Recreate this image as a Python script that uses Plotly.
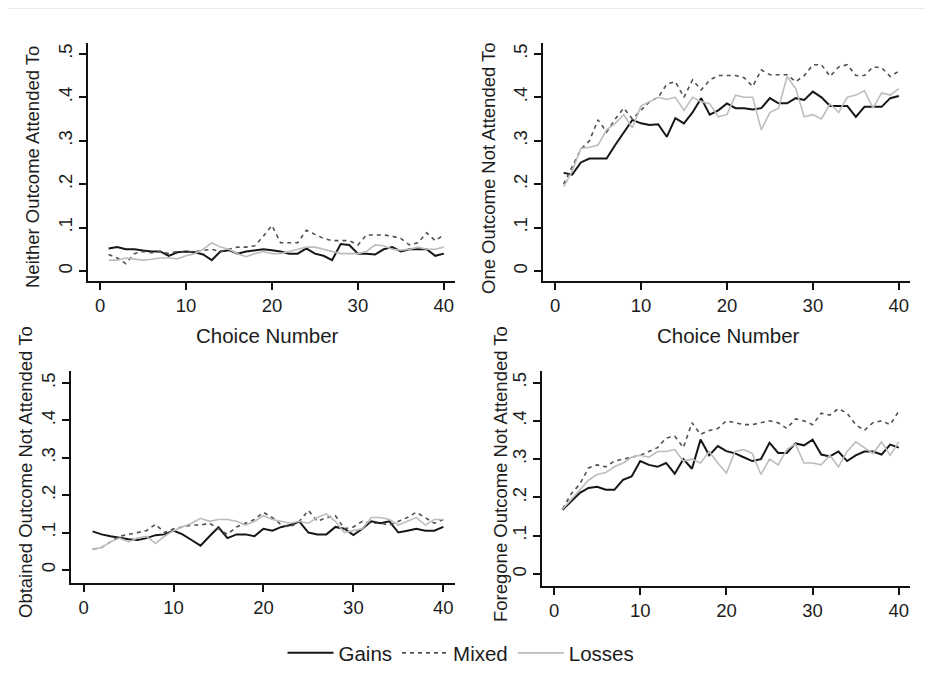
import plotly.graph_objects as go

# page is 933x689 with an 8px body margin around the plot div
PAGE_OFF = 8
W, H = 933 - 2 * PAGE_OFF, 689 - 2 * PAGE_OFF

choice = list(range(1, 41))

# Panel 1: Neither Outcome Attended To
neither_gains = [0.052, 0.055, 0.050, 0.050, 0.047, 0.045, 0.045, 0.035, 0.043, 0.045,
                 0.043, 0.038, 0.025, 0.045, 0.048, 0.040, 0.045, 0.048, 0.050, 0.048,
                 0.045, 0.040, 0.040, 0.052, 0.040, 0.035, 0.025, 0.062, 0.060, 0.040,
                 0.040, 0.038, 0.050, 0.055, 0.045, 0.050, 0.050, 0.050, 0.035, 0.040]
neither_mixed = [0.038, 0.030, 0.017, 0.040, 0.045, 0.042, 0.045, 0.040, 0.045, 0.043,
                 0.045, 0.048, 0.050, 0.045, 0.050, 0.055, 0.055, 0.058, 0.080, 0.105,
                 0.065, 0.065, 0.065, 0.094, 0.085, 0.075, 0.070, 0.070, 0.070, 0.060,
                 0.083, 0.083, 0.083, 0.080, 0.075, 0.060, 0.065, 0.088, 0.070, 0.083]
neither_losses = [0.025, 0.025, 0.030, 0.028, 0.025, 0.027, 0.030, 0.030, 0.028, 0.035,
                  0.040, 0.050, 0.065, 0.055, 0.050, 0.040, 0.033, 0.040, 0.045, 0.040,
                  0.040, 0.045, 0.050, 0.055, 0.055, 0.050, 0.045, 0.040, 0.040, 0.040,
                  0.045, 0.060, 0.058, 0.050, 0.048, 0.050, 0.055, 0.050, 0.050, 0.055]

# Panel 2: One Outcome Not Attended To
one_gains = [0.226, 0.222, 0.250, 0.259, 0.259, 0.259, 0.290, 0.320, 0.348, 0.340,
             0.336, 0.338, 0.309, 0.352, 0.340, 0.365, 0.398, 0.360, 0.370, 0.386,
             0.375, 0.375, 0.372, 0.375, 0.398, 0.386, 0.386, 0.398, 0.394, 0.413,
             0.400, 0.380, 0.380, 0.380, 0.355, 0.378, 0.378, 0.378, 0.398, 0.403]
one_mixed = [0.200, 0.240, 0.280, 0.300, 0.348, 0.320, 0.350, 0.375, 0.350, 0.370,
             0.390, 0.400, 0.430, 0.436, 0.400, 0.440, 0.417, 0.440, 0.450, 0.450,
             0.450, 0.445, 0.425, 0.463, 0.452, 0.452, 0.452, 0.436, 0.450, 0.475,
             0.475, 0.448, 0.470, 0.475, 0.450, 0.450, 0.470, 0.468, 0.448, 0.460]
one_losses = [0.194, 0.230, 0.282, 0.285, 0.290, 0.325, 0.340, 0.360, 0.330, 0.380,
              0.390, 0.400, 0.395, 0.400, 0.370, 0.400, 0.390, 0.385, 0.355, 0.360,
              0.405, 0.400, 0.400, 0.325, 0.365, 0.375, 0.448, 0.420, 0.355, 0.360,
              0.350, 0.385, 0.365, 0.400, 0.405, 0.415, 0.375, 0.410, 0.405, 0.420]

# Panel 3: Obtained Outcome Not Attended To
obt_gains = [0.103, 0.095, 0.090, 0.085, 0.082, 0.080, 0.085, 0.093, 0.095, 0.105,
             0.095, 0.080, 0.065, 0.090, 0.114, 0.085, 0.095, 0.095, 0.090, 0.110,
             0.105, 0.115, 0.120, 0.129, 0.100, 0.095, 0.095, 0.115, 0.110, 0.093,
             0.110, 0.130, 0.125, 0.130, 0.100, 0.105, 0.110, 0.105, 0.105, 0.115]
obt_mixed = [0.055, 0.060, 0.075, 0.090, 0.095, 0.100, 0.105, 0.122, 0.100, 0.110,
             0.115, 0.120, 0.120, 0.125, 0.110, 0.095, 0.115, 0.125, 0.135, 0.154,
             0.140, 0.120, 0.115, 0.130, 0.159, 0.130, 0.140, 0.145, 0.110, 0.115,
             0.130, 0.125, 0.125, 0.120, 0.130, 0.140, 0.154, 0.140, 0.125, 0.135]
obt_losses = [0.055, 0.060, 0.075, 0.085, 0.075, 0.085, 0.090, 0.071, 0.090, 0.105,
              0.115, 0.125, 0.138, 0.130, 0.135, 0.135, 0.130, 0.120, 0.130, 0.145,
              0.135, 0.130, 0.125, 0.130, 0.125, 0.140, 0.150, 0.130, 0.100, 0.105,
              0.110, 0.140, 0.140, 0.135, 0.120, 0.130, 0.140, 0.120, 0.135, 0.135]

# Panel 4: Foregone Outcome Not Attended To
fore_gains = [0.168, 0.190, 0.212, 0.225, 0.228, 0.220, 0.220, 0.246, 0.255, 0.295,
              0.285, 0.280, 0.290, 0.262, 0.300, 0.275, 0.351, 0.310, 0.334, 0.321,
              0.315, 0.305, 0.295, 0.300, 0.343, 0.316, 0.316, 0.341, 0.336, 0.351,
              0.312, 0.307, 0.320, 0.295, 0.310, 0.320, 0.320, 0.312, 0.338, 0.330]
fore_mixed = [0.170, 0.210, 0.235, 0.277, 0.285, 0.280, 0.295, 0.300, 0.305, 0.310,
              0.320, 0.330, 0.355, 0.360, 0.330, 0.395, 0.365, 0.375, 0.380, 0.400,
              0.395, 0.390, 0.390, 0.395, 0.400, 0.395, 0.380, 0.405, 0.400, 0.390,
              0.420, 0.415, 0.432, 0.420, 0.390, 0.375, 0.395, 0.400, 0.390, 0.425]
fore_losses = [0.170, 0.195, 0.220, 0.245, 0.260, 0.265, 0.280, 0.290, 0.305, 0.310,
               0.305, 0.320, 0.320, 0.325, 0.295, 0.300, 0.290, 0.320, 0.290, 0.264,
               0.320, 0.325, 0.315, 0.260, 0.300, 0.285, 0.325, 0.340, 0.290, 0.290,
               0.285, 0.310, 0.280, 0.320, 0.345, 0.330, 0.315, 0.345, 0.310, 0.345]

y_titles = ["Neither Outcome Attended To", "One Outcome Not Attended To",
            "Obtained Outcome Not Attended To", "Foregone Outcome Not Attended To"]
x_title = "Choice Number"
series_names = ["Gains", "Mixed", "Losses"]
ytick_vals = [0, 0.1, 0.2, 0.3, 0.4, 0.5]
ytick_text = ["0", ".1", ".2", ".3", ".4", ".5"]
xtick_vals = [0, 10, 20, 30, 40]

panels = [
    (neither_gains, neither_mixed, neither_losses),
    (one_gains, one_mixed, one_losses),
    (obt_gains, obt_mixed, obt_losses),
    (fore_gains, fore_mixed, fore_losses),
]


def fx(px):
    return (px - PAGE_OFF) / W


def fy(py):
    return 1 - (py - PAGE_OFF) / H


# page-pixel geometry of each panel: (left, right, top, bottom, yrange)
geom = [
    (88, 455, 43, 281, [-0.023, 0.525]),
    (543, 910, 43, 281, [-0.023, 0.525]),
    (71, 455, 371, 583, [-0.035, 0.532]),
    (542, 910, 371, 586, [-0.031, 0.530]),
]
xrange_ = [-1.4, 41.3]

styles = [
    dict(color="#161616", width=2.0, dash="solid"),
    dict(color="#505050", width=1.6, dash="4px,4px"),
    dict(color="#bdbdbd", width=1.6, dash="solid"),
]

font_family = "Arial, 'Liberation Sans', sans-serif"
txt_color = "#1c1c1c"

fig = go.Figure()
layout = dict(
    width=W, height=H,
    margin=dict(l=0, r=0, t=0, b=0),
    paper_bgcolor="white", plot_bgcolor="white",
    font=dict(family=font_family, size=19, color=txt_color),
    showlegend=True,
)

for i, (series, g) in enumerate(zip(panels, geom)):
    n = i + 1
    xa = "x" if n == 1 else f"x{n}"
    ya = "y" if n == 1 else f"y{n}"
    left, right, top, bottom, yr = g
    for j, (vals, name, st) in enumerate(zip(series, series_names, styles)):
        fig.add_trace(go.Scatter(
            x=choice, y=vals, mode="lines", name=name,
            line=st, xaxis=xa, yaxis=ya,
            showlegend=(i == 0), legendrank=j + 1,
            hoverinfo="skip",
        ))
    layout["xaxis" if n == 1 else f"xaxis{n}"] = dict(
        domain=[fx(left), fx(right)], range=xrange_, anchor=ya, automargin=False,
        showgrid=False, zeroline=False, showline=True, linecolor="#111111", linewidth=2,
        ticks="outside", ticklen=7, tickwidth=1.5, tickcolor="#111111",
        tickvals=xtick_vals, tickfont=dict(size=18.5, color=txt_color),
    )
    layout["yaxis" if n == 1 else f"yaxis{n}"] = dict(
        domain=[fy(bottom), fy(top)], range=yr, anchor=xa, automargin=False,
        showgrid=False, zeroline=False, showline=True, linecolor="#111111", linewidth=2,
        ticks="outside", ticklen=7, tickwidth=1.5, tickcolor="#111111",
        tickvals=ytick_vals, ticktext=ytick_text, tickangle=-90,
        tickfont=dict(size=18.5, color=txt_color),
    )

annotations = []
# y titles (rotated)
ytitle_pos = [(32, 167), (488, 168), (25, 472), (500, 474)]
for t, (px, py) in zip(y_titles, ytitle_pos):
    annotations.append(dict(text=t, x=fx(px), y=fy(py), xref="paper", yref="paper",
                            showarrow=False, textangle=-90, font=dict(size=18.5, color=txt_color),
                            xanchor="center", yanchor="middle"))
# x titles for top panels
for px in (267, 728):
    annotations.append(dict(text=x_title, x=fx(px), y=fy(335), xref="paper", yref="paper",
                            showarrow=False, font=dict(size=20.5, color=txt_color),
                            xanchor="center", yanchor="middle"))
layout["annotations"] = annotations

layout["shapes"] = [dict(type="line", xref="paper", yref="paper", x0=0, x1=1,
                         y0=1, y1=1, line=dict(color="#e6ecea", width=2))]

layout["legend"] = dict(orientation="h", x=fx(461), xanchor="center", y=fy(653), yanchor="middle",
                        font=dict(size=20.5, color=txt_color), bgcolor="rgba(0,0,0,0)",
                        itemwidth=46, tracegroupgap=0, traceorder="normal")

fig.update_layout(**layout)
fig.write_html("out.html")
